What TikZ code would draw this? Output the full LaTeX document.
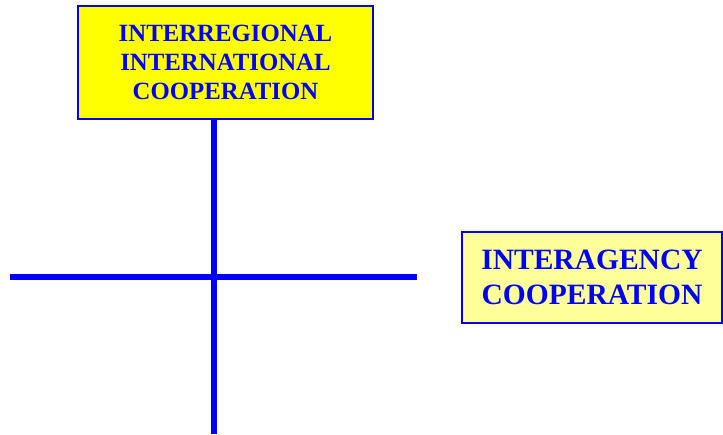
\documentclass[tikz,border=0pt]{standalone}
\usepackage{fontspec}
\setmainfont{Liberation Serif}
\definecolor{coopblue}{RGB}{0, 0, 255}
\definecolor{coopyellow}{RGB}{255, 255, 0}
\definecolor{paleyellow}{RGB}{255, 255, 153}
\usetikzlibrary{positioning, calc}

\begin{document}
\begin{tikzpicture}[x=1pt, y=1pt,
  coopbox/.style={draw=coopblue, line width=1.6pt, align=center, text=coopblue, font=\bfseries, inner sep=0pt},
  axisline/.style={draw=coopblue, line width=5.5pt}]
  \useasboundingbox (0, 0) rectangle (723, 434);

  % Interregional box
  \node[coopbox, fill=coopyellow, minimum width=295pt, minimum height=113pt, font=\fontsize{24.8}{29}\selectfont\bfseries] (inter) at (225.5, 371.5) {
    INTERREGIONAL\\INTERNATIONAL\\COOPERATION
  };

  % Interagency box
  \node[coopbox, fill=paleyellow, minimum width=260pt, minimum height=91pt, font=\fontsize{29.5}{35}\selectfont\bfseries] (agency) at (592, 156.5) {
    \raisebox{-2pt}{INTERAGENCY}\\\raisebox{-2pt}{COOPERATION}
  };

  % Cross
  \coordinate (vtop) at ($(inter.south)+(-11.5, 0)$);
  \coordinate (vbot) at (214, 0);
  \coordinate (hleft) at (10, 157);
  \coordinate (hright) at (417, 157);
  \draw[axisline] (vtop) -- (vbot);
  \draw[axisline] (hleft) -- (hright);
\end{tikzpicture}
\end{document}
